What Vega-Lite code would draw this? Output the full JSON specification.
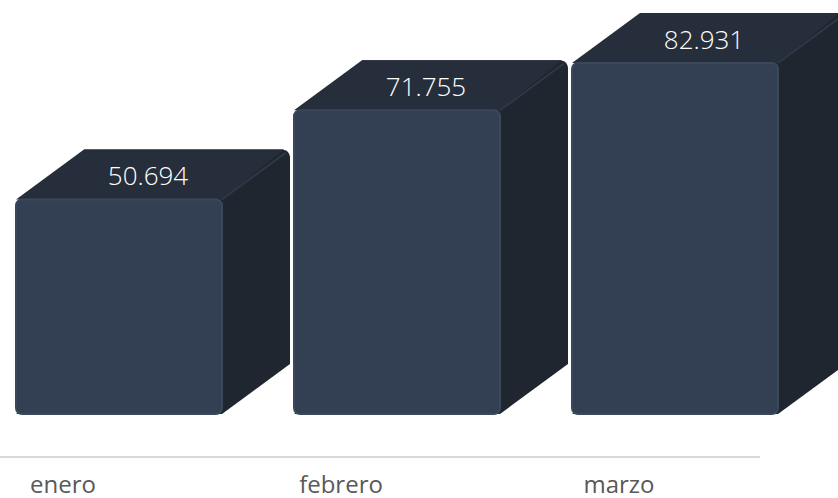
{
  "$schema": "https://vega.github.io/schema/vega-lite/v6.json",
  "width": 760,
  "height": 457,
  "autosize": {"type": "none"},
  "padding": {"left": 0, "top": 0, "right": 78, "bottom": 41},
  "background": "#ffffff",
  "config": {
    "view": {"stroke": null},
    "locale": {
      "number": {"decimal": ",", "thousands": ".", "grouping": [3], "currency": ["", " €"]}
    }
  },
  "data": {
    "values": [
      {"mes": "enero", "valor": 50694},
      {"mes": "febrero", "valor": 71755},
      {"mes": "marzo", "valor": 82931}
    ]
  },
  "resolve": {"scale": {"y": "shared"}},
  "layer": [
    {
      "transform": [{"aggregate": [{"op": "count", "as": "n"}]}],
      "mark": {"type": "rule", "color": "#d9d9d9", "strokeWidth": 2},
      "encoding": {
        "y": {
          "datum": -10160,
          "type": "quantitative",
          "scale": {"domain": [-10160, 97820], "nice": false, "zero": false},
          "axis": null
        }
      }
    },
    {
      "encoding": {
        "x": {
          "field": "mes",
          "type": "nominal",
          "sort": null,
          "scale": {"type": "band", "range": [16, 778], "paddingInner": 0.259, "paddingOuter": 0},
          "axis": {
            "title": null,
            "domain": false,
            "ticks": false,
            "grid": false,
            "labelAngle": 0,
            "labelFont": "Open Sans",
            "labelFontSize": 24,
            "labelColor": "#595959",
            "labelBaseline": "alphabetic",
            "labelPadding": 35,
            "labelOffset": -56
          }
        }
      },
      "layer": [
        {
          "mark": {"type": "bar", "color": "#20262f", "xOffset": 68, "yOffset": -50, "y2Offset": -50, "cornerRadiusTopRight": 8},
          "encoding": {
            "y": {"field": "valor", "type": "quantitative", "axis": null},
            "y2": {"datum": 0}
          }
        },
        {
          "mark": {
            "type": "point",
            "shape": "M-1,0 L-0.34,-0.485 L1.6,-0.485 L1,0 Z",
            "size": 42436,
            "filled": true,
            "opacity": 1,
            "color": "#262e3b",
            "strokeWidth": 0
          },
          "encoding": {
            "y": {"field": "valor", "type": "quantitative"}
          }
        },
        {
          "mark": {
            "type": "point",
            "shape": "M-1,0 L-0.34,-0.485 L1.66,-0.485 L1,0 Z",
            "size": 42436,
            "filled": true,
            "opacity": 1,
            "color": "#20262f",
            "strokeWidth": 0
          },
          "encoding": {
            "y": {"datum": 0, "type": "quantitative"}
          }
        },
        {
          "mark": {
            "type": "point",
            "shape": "M1,0 L1.62,-0.455",
            "size": 42436,
            "filled": false,
            "opacity": 1,
            "color": "#2e3847",
            "strokeWidth": 2
          },
          "encoding": {
            "y": {"field": "valor", "type": "quantitative"}
          }
        },
        {
          "mark": {
            "type": "bar",
            "color": "#333f52",
            "stroke": "#3b475b",
            "strokeWidth": 2,
            "cornerRadius": 6
          },
          "encoding": {
            "y": {"field": "valor", "type": "quantitative"},
            "y2": {"datum": 0}
          }
        },
        {
          "mark": {
            "type": "text",
            "color": "#ffffff",
            "font": "Open Sans",
            "fontSize": 26,
            "fontWeight": 300,
            "baseline": "middle",
            "align": "center",
            "dx": 29,
            "dy": -22
          },
          "encoding": {
            "y": {"field": "valor", "type": "quantitative"},
            "text": {"field": "valor", "type": "quantitative", "format": ",d"}
          }
        }
      ]
    }
  ]
}
